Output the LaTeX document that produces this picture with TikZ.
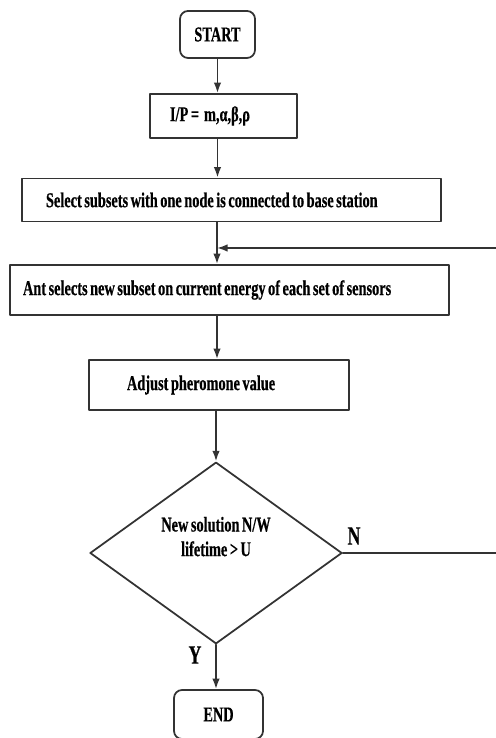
\documentclass[tikz,border=0pt]{standalone}
\usepackage{fontspec}
\setmainfont{Liberation Serif}[FakeStretch=0.68,WordSpace=0.7,BoldFeatures={FakeBold=0.5}]
\usetikzlibrary{arrows.meta,shapes.geometric}
\begin{document}
\begin{tikzpicture}[line cap=round,line join=round,
  box/.style={draw=black!80,line width=1pt,align=flush left,inner ysep=0pt,
    font=\bfseries\fontsize{12}{14}\selectfont},
  term/.style={box,align=center,rounded corners=1.6mm},
  yn/.style={inner sep=0pt,font=\bfseries\fontsize{15}{17}\selectfont},
  arr/.style={draw=black!80,line width=1pt,-{Latex[length=2.1mm,width=1.5mm]}}]
  \useasboundingbox (0,0) rectangle (9.9,14.76);
  \node[term,minimum width=1.5cm,minimum height=0.94cm] (start) at (4.35,14.07) {START};
  \node[box,text width=2.14cm,inner xsep=0.4cm,minimum height=0.88cm] (inp) at (4.47,12.44) {I/P =\ \ m,α,β,ρ};
  \node[box,text width=7.42cm,inner xsep=0.48cm,minimum height=0.86cm] (sel) at (4.63,10.76) {Select subsets with one node is connected to base station};
  \node[box,text width=8.26cm,inner xsep=0.26cm,minimum height=1.0cm] (ant) at (4.59,8.96) {Ant selects new subset on current energy of each set of sensors};
  \node[box,text width=3.68cm,inner xsep=0.76cm,minimum height=1.0cm] (adj) at (4.38,7.06) {Adjust pheromone value};
  \node[box,diamond,align=center,inner sep=0pt,text depth=0.66cm,minimum width=5.04cm,minimum height=3.6cm] (dec) at (4.32,3.7) {New solution N/W\\lifetime > U};
  \node[term,minimum width=1.78cm,minimum height=0.98cm] (stop) at (4.37,0.47) {END};
  \node[yn] (nlab) at (7.08,4.04) {N};
  \node[yn] (ylab) at (3.9,1.66) {Y};
  \coordinate (back) at (4.34,9.8);
  \coordinate (rim) at (10.2,0);
  % main line
  \draw[arr] (start.south) -- (start.south |- inp.north);
  \draw[arr] (inp.south -| start) -- (start |- sel.north);
  \draw[arr] (sel.south -| back) -- (back |- ant.north);
  \draw[arr] (ant.south -| back) -- (back |- adj.north);
  \draw[arr] (adj.south -| dec) -- (dec.north);
  \draw[arr] (dec.south) -- (dec.south |- stop.north);
  % loop back
  \draw[arr] (dec.east) -- (dec.east -| rim) |- (back);
\end{tikzpicture}
\end{document}
